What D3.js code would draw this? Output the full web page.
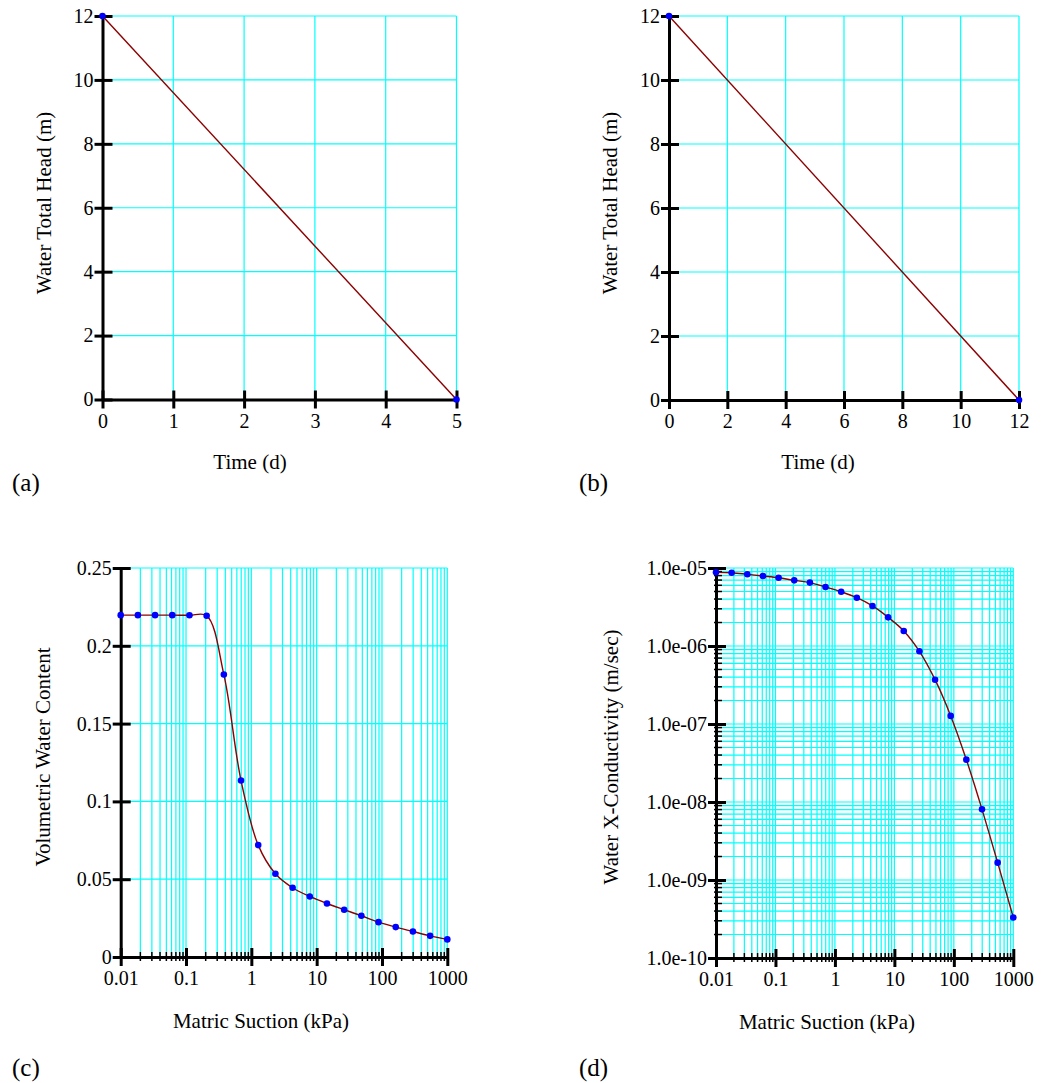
<!DOCTYPE html>
<html>
<head>
<meta charset="utf-8">
<script src="https://cdn.jsdelivr.net/npm/d3@7"></script>
<style>
  html, body { margin: 0; padding: 0; background: #ffffff; }
  svg { display: block; }
  text { font-family: "Liberation Serif", "Times New Roman", serif; fill: #000; }
</style>
</head>
<body>
<script>
// ---------------- data ----------------
const timeA = [0, 5];
const headA = [12, 0];
const timeB = [0, 12];
const headB = [12, 0];

const suction = [0.01, 0.01833, 0.0336, 0.06158, 0.1129, 0.2069, 0.3793, 0.6952, 1.274, 2.336,
                 4.281, 7.848, 14.38, 26.37, 48.33, 88.59, 162.4, 297.6, 545.6, 1000];
const vwc = [0.2197, 0.2197, 0.2197, 0.2197, 0.2196, 0.2193, 0.1816, 0.1134, 0.0719, 0.0535,
             0.0445, 0.0389, 0.0344, 0.0304, 0.0265, 0.0224, 0.0192, 0.0164, 0.0136, 0.0113];
const kx = [8.8e-6, 8.7e-6, 8.3e-6, 7.9e-6, 7.5e-6, 6.95e-6, 6.5e-6, 5.7e-6, 4.96e-6, 4.16e-6,
            3.26e-6, 2.33e-6, 1.56e-6, 8.55e-7, 3.7e-7, 1.27e-7, 3.49e-8, 8.05e-9, 1.67e-9, 3.3e-10];

const xTicksA = [0, 1, 2, 3, 4, 5];
const xTicksB = [0, 2, 4, 6, 8, 10, 12];
const yTicksHead = [0, 2, 4, 6, 8, 10, 12];
const yTicksVwc = [0, 0.05, 0.1, 0.15, 0.2, 0.25];
const yLabelsVwc = ["0", "0.05", "0.1", "0.15", "0.2", "0.25"];
const xTicksLog = [0.01, 0.1, 1, 10, 100, 1000];
const xLabelsLog = ["0.01", "0.1", "1", "10", "100", "1000"];
const yTicksK = [1e-10, 1e-9, 1e-8, 1e-7, 1e-6, 1e-5];
const yLabelsK = ["1.0e-10", "1.0e-09", "1.0e-08", "1.0e-07", "1.0e-06", "1.0e-05"];

const panelLetters = ["(a)", "(b)", "(c)", "(d)"];
const xTitles = ["Time (d)", "Time (d)", "Matric Suction (kPa)", "Matric Suction (kPa)"];
const yTitles = ["Water Total Head (m)", "Water Total Head (m)", "Volumetric Water Content", "Water X-Conductivity (m/sec)"];

// ---------------- helpers ----------------
const GRID = "#00ffff";
const LINE = "#8b0000";
const DOT = "#0000ff";

function logMinors(lo, hi) {
  const out = [];
  for (let e = Math.round(Math.log10(lo)); e < Math.round(Math.log10(hi)); e++) {
    for (let m = 2; m <= 9; m++) out.push(m * Math.pow(10, e));
  }
  return out;
}

const svg = d3.select("body").append("svg").attr("width", 1041).attr("height", 1083);

function panel(cfg) {
  const g = svg.append("g");
  const x = cfg.x, y = cfg.y;
  const [x0, x1] = x.range();
  const [y0, y1] = y.range();

  // grid
  const xg = cfg.xTicks.concat(cfg.xMinor || []).filter(v => x(v) > x0 + 1);
  const yg = cfg.yTicks.concat(cfg.yMinor || []).filter(v => y(v) < y0 - 1);
  g.selectAll(".vg").data(xg).join("line")
    .attr("x1", d => x(d)).attr("x2", d => x(d))
    .attr("y1", y0).attr("y2", y1)
    .attr("stroke", GRID).attr("stroke-width", 1.2);
  g.selectAll(".hg").data(yg).join("line")
    .attr("x1", x0).attr("x2", x1)
    .attr("y1", d => y(d)).attr("y2", d => y(d))
    .attr("stroke", GRID).attr("stroke-width", 1.2);

  // minor ticks
  if (cfg.xMinor) {
    g.selectAll(".xm").data(cfg.xMinor).join("line")
      .attr("x1", d => x(d)).attr("x2", d => x(d))
      .attr("y1", y0 - 5).attr("y2", y0 + 4)
      .attr("stroke", "#000").attr("stroke-width", 1.5);
  }
  if (cfg.yMinor) {
    g.selectAll(".ym").data(cfg.yMinor).join("line")
      .attr("x1", x0 - 2).attr("x2", x0 + 6)
      .attr("y1", d => y(d)).attr("y2", d => y(d))
      .attr("stroke", "#000").attr("stroke-width", 1.5);
  }

  // x axis
  const ax = d3.axisBottom(x).tickValues(cfg.xTicks).tickSize(9).tickSizeOuter(0).tickPadding(5)
    .tickFormat((d, i) => cfg.xLabels[i]);
  const gx = g.append("g").attr("transform", `translate(0,${y0})`).call(ax);
  gx.select(".domain").attr("stroke", "#000").attr("stroke-width", 3);
  gx.selectAll(".tick line").attr("y1", -9).attr("stroke", "#000").attr("stroke-width", 3);
  gx.selectAll(".tick text").attr("font-size", 20);

  // y axis
  const ay = d3.axisLeft(y).tickValues(cfg.yTicks).tickSize(8).tickSizeOuter(0).tickPadding(1)
    .tickFormat((d, i) => cfg.yLabels[i]);
  const gy = g.append("g").attr("transform", `translate(${x0},0)`).call(ay);
  gy.select(".domain").attr("stroke", "#000").attr("stroke-width", 3);
  gy.selectAll(".tick line").attr("x1", 10).attr("stroke", "#000").attr("stroke-width", 3);
  gy.selectAll(".tick text").attr("font-size", 20);
  gx.selectAll("text").attr("fill", "#000");
  gy.selectAll("text").attr("fill", "#000");

  // data
  const pts = cfg.xs.map((v, i) => [v, cfg.ys[i]]);
  const line = d3.line().x(d => x(d[0])).y(d => y(d[1])).curve(cfg.curve);
  g.append("path").datum(pts).attr("d", line)
    .attr("fill", "none").attr("stroke", LINE).attr("stroke-width", 1.4);
  g.selectAll(".pt").data(pts).join("circle")
    .attr("cx", d => x(d[0])).attr("cy", d => y(d[1])).attr("r", 3.3)
    .attr("fill", DOT);

  // titles
  g.append("text").attr("x", cfg.xt[0]).attr("y", cfg.xt[1]).attr("text-anchor", "middle")
    .attr("font-size", 21).text(cfg.xTitle);
  g.append("text").attr("transform", `translate(${cfg.yt[0]},${cfg.yt[1]}) rotate(-90)`)
    .attr("text-anchor", "middle").attr("font-size", 21).text(cfg.yTitle);
  g.append("text").attr("x", cfg.lt[0]).attr("y", cfg.lt[1]).attr("font-size", 25).text(cfg.letter);
}

panel({
  x: d3.scaleLinear().domain([0, 5]).range([102.5, 456.5]),
  y: d3.scaleLinear().domain([0, 12]).range([399.5, 16]),
  xTicks: xTicksA, xLabels: xTicksA.map(String),
  yTicks: yTicksHead, yLabels: yTicksHead.map(String),
  xs: timeA, ys: headA, curve: d3.curveLinear,
  xTitle: xTitles[0], yTitle: yTitles[0], letter: panelLetters[0],
  xt: [250, 469], yt: [50.5, 203], lt: [12, 491]
});

panel({
  x: d3.scaleLinear().domain([0, 12]).range([669, 1019]),
  y: d3.scaleLinear().domain([0, 12]).range([400, 16]),
  xTicks: xTicksB, xLabels: xTicksB.map(String),
  yTicks: yTicksHead, yLabels: yTicksHead.map(String),
  xs: timeB, ys: headB, curve: d3.curveLinear,
  xTitle: xTitles[1], yTitle: yTitles[1], letter: panelLetters[1],
  xt: [818, 469], yt: [617, 203], lt: [579, 491]
});

panel({
  x: d3.scaleLog().domain([0.01, 1000]).range([120.7, 447.3]),
  y: d3.scaleLinear().domain([0, 0.25]).range([957, 568]),
  xTicks: xTicksLog, xLabels: xLabelsLog, xMinor: logMinors(0.01, 1000),
  yTicks: yTicksVwc, yLabels: yLabelsVwc,
  xs: suction, ys: vwc, curve: d3.curveCatmullRom.alpha(0.5),
  xTitle: xTitles[2], yTitle: yTitles[2], letter: panelLetters[2],
  xt: [261, 1028], yt: [50, 757], lt: [12, 1076]
});

panel({
  x: d3.scaleLog().domain([0.01, 1000]).range([716, 1013.3]),
  y: d3.scaleLog().domain([1e-10, 1e-5]).range([958, 568]),
  xTicks: xTicksLog, xLabels: xLabelsLog, xMinor: logMinors(0.01, 1000),
  yTicks: yTicksK, yLabels: yLabelsK, yMinor: logMinors(1e-10, 1e-5),
  xs: suction, ys: kx, curve: d3.curveCatmullRom.alpha(0.5),
  xTitle: xTitles[3], yTitle: yTitles[3], letter: panelLetters[3],
  xt: [827, 1029], yt: [618, 757], lt: [579, 1076]
});
</script>
</body>
</html>
